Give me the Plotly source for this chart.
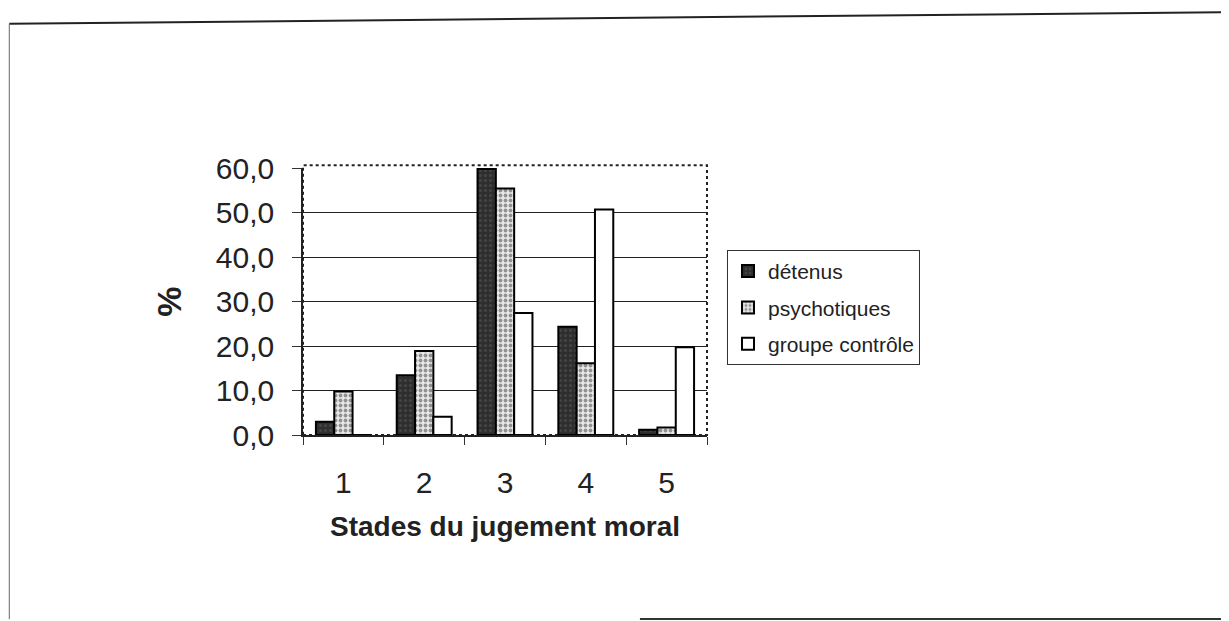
import plotly.graph_objects as go

stades = ["1", "2", "3", "4", "5"]
detenus = [3.0, 13.4, 59.8, 24.3, 1.2]
psychotiques = [9.8, 18.9, 55.4, 16.1, 1.7]
groupe_controle = [0.0, 4.1, 27.4, 50.7, 19.7]
y_ticks = [0, 10, 20, 30, 40, 50, 60]

FONT = "Arial, 'Liberation Sans', sans-serif"

fig = go.Figure()
fig.add_trace(go.Bar(
    x=stades, y=detenus, name="détenus", legendgroup="a",
    marker=dict(color="#2e2e2e", line=dict(color="black", width=2),
                pattern=dict(shape=".", fgcolor="#5a5a5a", bgcolor="#2e2e2e", size=5, solidity=0.3)),
))
fig.add_trace(go.Bar(
    x=stades, y=psychotiques, name="psychotiques", legendgroup="b",
    marker=dict(color="#e8e8e8", line=dict(color="black", width=2),
                pattern=dict(shape=".", fgcolor="#3a3a3a", bgcolor="#e8e8e8", size=5, solidity=0.45)),
))
fig.add_trace(go.Bar(
    x=stades, y=groupe_controle, name="groupe contrôle", legendgroup="c",
    marker=dict(color="white", line=dict(color="black", width=2)),
))

# page body has an 8px margin: figure is 1221x613 placed at (8, 8)
fig.update_layout(
    width=1221, height=613,
    paper_bgcolor="white", plot_bgcolor="white",
    margin=dict(l=295, r=522, t=160, b=186, autoexpand=False),
    barmode="group", bargap=0.32, bargroupgap=0,
    separators=", ",
    font=dict(family=FONT, color="#222"),
    showlegend=True,
    legend=dict(x=1.0495, y=0.693, xanchor="left", yanchor="top",
                bordercolor="#333", borderwidth=1, bgcolor="white",
                font=dict(size=21, family=FONT, color="#222"),
                tracegroupgap=6, itemwidth=30),
    xaxis=dict(type="category", tickson="boundaries", ticks="outside", ticklen=8,
               tickcolor="#333", tickwidth=1, showline=True, linecolor="#222", linewidth=2,
               showgrid=False, tickfont=dict(size=30, family=FONT, color="#222"),
               ticklabelstandoff=20,
               title=dict(text="<b>Stades du jugement moral</b>", standoff=18,
                          font=dict(size=28, family=FONT, color="#222"))),
    yaxis=dict(range=[0, 60], tickvals=y_ticks, tickformat=".1f", ticks="outside", ticklen=9,
               tickcolor="#333", showline=True, linecolor="#222", linewidth=1.5,
               showgrid=True, gridcolor="#222", gridwidth=1, zeroline=False,
               tickfont=dict(size=30, family=FONT, color="#222"), ticklabelstandoff=12,
               title=dict(text="<b>%</b>", standoff=24, font=dict(size=34, family=FONT, color="#222"))),
    shapes=[
        dict(type="rect", xref="paper", yref="paper", x0=0, x1=1, y0=0, y1=1.01,
             line=dict(color="#222", width=2, dash="dot"), layer="below"),
        dict(type="line", xref="paper", yref="paper", x0=-0.727, x1=2.30, y0=1.54, y1=1.584,
             line=dict(color="#222", width=2)),
        dict(type="line", xref="paper", yref="paper", x0=-0.727, x1=-0.727, y0=1.54, y1=-0.69,
             line=dict(color="#666", width=1)),
        dict(type="line", xref="paper", yref="paper", x0=0.834, x1=2.30, y0=-0.689, y1=-0.689,
             line=dict(color="#333", width=2)),
    ],
)

fig.write_html("out.html")
